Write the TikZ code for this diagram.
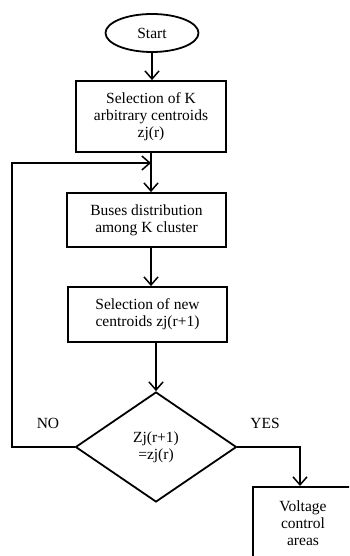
\documentclass[tikz,border=0pt]{standalone}
\usepackage{fontspec}
\setmainfont{Liberation Serif}
\usetikzlibrary{shapes.geometric,arrows.meta}
\begin{document}
\begin{tikzpicture}[x=1pt,y=-1pt,
  every node/.style={font=\fontsize{15.5}{17}\selectfont, align=center},
  stepbox/.style={draw, line width=1.8pt, rectangle, inner sep=0pt},
  arr/.style={line width=1.8pt, -{Straight Barb[length=8pt,width=14pt,line width=1.5pt]}},
  ln/.style={line width=1.8pt}]
\useasboundingbox (0,0) rectangle (349,556);
\clip (0,0) rectangle (349,556);
\fill[white] (0,0) rectangle (349,556);

% process steps
\node[draw, line width=1.8pt, ellipse, minimum width=93pt, minimum height=38pt, inner sep=0pt] (start) at (152,33) {Start};
\node[stepbox, minimum width=150pt, minimum height=71pt] (b1) at (151,116.5) {Selection of K\\arbitrary centroids\\zj(r)};
\node[stepbox, minimum width=159pt, minimum height=54pt] (b2) at (146.5,220) {Buses distribution\\among K cluster};
\node[stepbox, minimum width=159pt, minimum height=55pt] (b3) at (147.5,314.5) {Selection of new\\centroids zj(r+1)};
\node[draw, line width=1.8pt, diamond, minimum width=161pt, minimum height=110pt, inner sep=0pt] (d) at (156,447) {Zj(r+1)\\=zj(r)};
\node[stepbox, anchor=north, minimum width=100pt, inner ysep=14pt, text depth=40pt] (b4) at (303,486) {Voltage\\control\\areas};

% branch labels
\node (no) at (48,423) {NO};
\node (yes) at (265,423) {YES};

% flow
\coordinate (j) at (151,163);
\coordinate (nl) at (12,163);
\draw[arr] (start.south) -- (start.south |- b1.north);
\draw[arr] (b1.south) -- (b1.south |- b2.north);
\draw[arr] (b2.south -| b1.south) -- (b1.south |- b3.north);
\draw[arr] (d.north |- b3.south) -- (d.north);
\draw[arr] (d.west) -| (nl) -- (j);
\draw[arr] (d.east) -| (300,486);
\end{tikzpicture}
\end{document}
